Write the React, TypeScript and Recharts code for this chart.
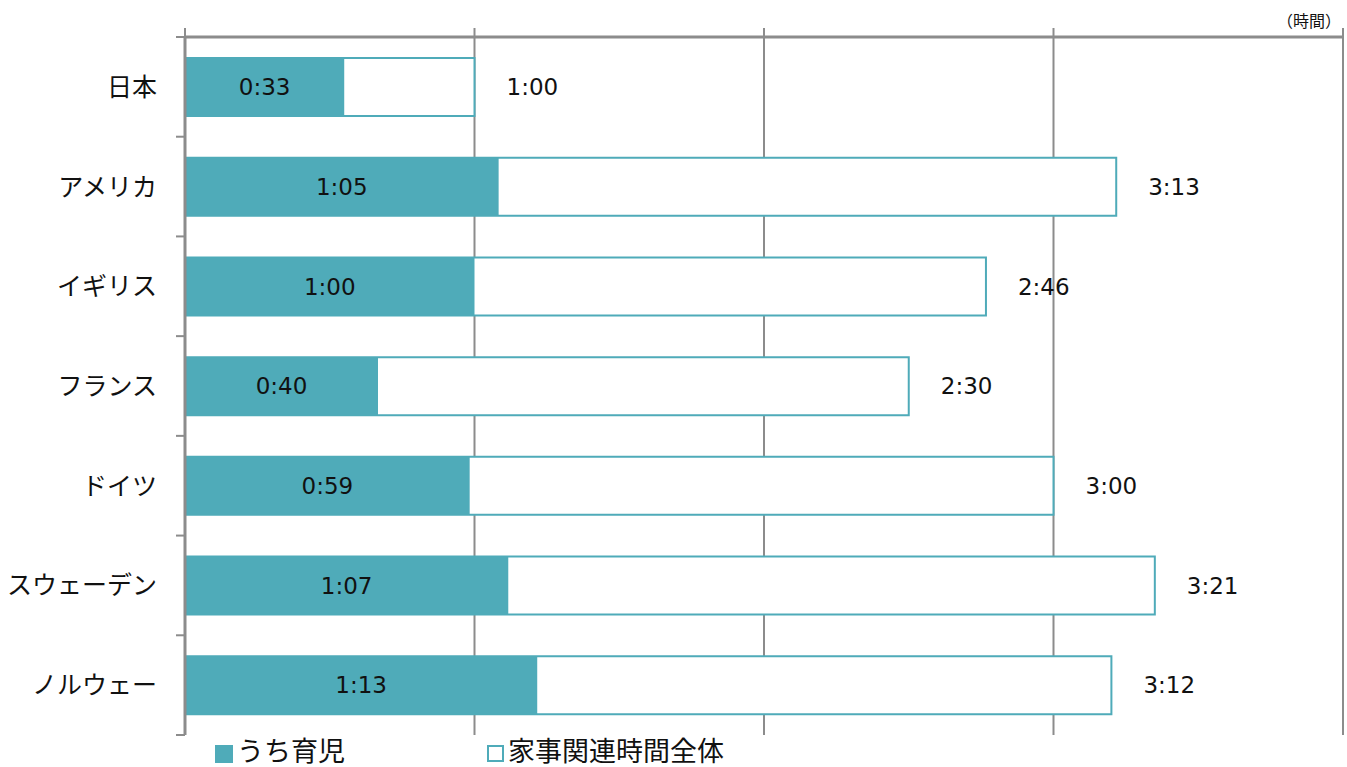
import { BarChart, Bar, XAxis, YAxis, CartesianGrid, LabelList } from "recharts";

const countries = ["日本", "アメリカ", "イギリス", "フランス", "ドイツ", "スウェーデン", "ノルウェー"];
// minutes per day
const childcare = [33, 65, 60, 40, 59, 67, 73];
const housework = [60, 193, 166, 150, 180, 201, 192];
const hourTicks = [0, 60, 120, 180, 240];
const seriesNames = ["うち育児", "家事関連時間全体"];
const unitLabel = "（時間）";

const W = 1347;
const H = 767;
const M = { top: 27, right: 4, bottom: 32, left: 0 };
const Y_AXIS_W = 185;
const X_AXIS_H = 10;
const TEAL = "#4fabb9";
const GRAY = "#8c8c8c";
const FONT = "'Noto Sans CJK JP', 'Noto Sans', sans-serif";
const NUM_FONT = "'DejaVu Sans', sans-serif";

const data = countries.map((name, i) => ({
  name,
  childcare: childcare[i],
  total: housework[i],
}));

const fmt = (v: any) => {
  const m = Number(v);
  return `${Math.floor(m / 60)}:${String(m % 60).padStart(2, "0")}`;
};

const band = (H - M.top - M.bottom - X_AXIS_H) / countries.length;

function CountryTick(props: any) {
  const { x, y, payload, index } = props;
  return (
    <g>
      <line x1={x - 9} x2={x} y1={y - band / 2} y2={y - band / 2} stroke={GRAY} strokeWidth={2} />
      {index === countries.length - 1 && (
        <line x1={x - 9} x2={x} y1={y + band / 2} y2={y + band / 2} stroke={GRAY} strokeWidth={2} />
      )}
      <text x={x - 28} y={y} dy={9} textAnchor="end" fontSize={25} fill="#111" fontFamily={FONT}>
        {payload.value}
      </text>
    </g>
  );
}

export default function App() {
  return (
    <div style={{ position: "absolute", left: 0, top: 0, width: W, height: H, fontFamily: FONT }}>
      <BarChart
        width={W}
        height={H}
        data={data}
        layout="vertical"
        margin={M}
        barSize={58}
        barGap={-58}
      >
        <CartesianGrid horizontal={false} stroke={GRAY} strokeWidth={2} verticalValues={hourTicks} />
        <XAxis
          type="number"
          orientation="top"
          domain={[0, 240]}
          ticks={hourTicks}
          tickFormatter={() => ""}
          tickSize={9}
          height={X_AXIS_H}
          axisLine={{ stroke: GRAY, strokeWidth: 3 }}
          tickLine={{ stroke: GRAY, strokeWidth: 2 }}
        />
        <YAxis
          type="category"
          dataKey="name"
          width={Y_AXIS_W}
          tickLine={false}
          tickSize={0}
          tickMargin={0}
          axisLine={{ stroke: GRAY, strokeWidth: 3 }}
          tick={<CountryTick />}
          interval={0}
        />
        <Bar dataKey="total" fill="#fff" stroke={TEAL} strokeWidth={2} isAnimationActive={false}>
          <LabelList
            dataKey="total"
            position="right"
            offset={32}
            formatter={fmt}
            fill="#111"
            fontSize={23}
            fontFamily={NUM_FONT}
          />
        </Bar>
        <Bar dataKey="childcare" fill={TEAL} isAnimationActive={false}>
          <LabelList
            dataKey="childcare"
            position="center"
            formatter={fmt}
            fill="#111"
            fontSize={23}
            fontFamily={NUM_FONT}
          />
        </Bar>
      </BarChart>
      <div style={{ position: "absolute", right: 6, top: 8, fontSize: 16, color: "#111" }}>{unitLabel}</div>
      <div
        style={{
          position: "absolute",
          left: 215,
          top: 736,
          display: "flex",
          fontSize: 27,
          lineHeight: "27px",
          color: "#111",
        }}
      >
        {seriesNames.map((n, i) => (
          <div key={n} style={{ display: "flex", alignItems: "center", marginRight: i === 0 ? 142 : 0 }}>
            <span
              style={{
                display: "inline-block",
                width: i === 0 ? 18 : 13,
                height: i === 0 ? 18 : 13,
                marginTop: 8,
                background: i === 0 ? TEAL : "#fff",
                border: i === 0 ? "none" : `2px solid ${TEAL}`,
                marginRight: 4,
              }}
            />
            <span>{n}</span>
          </div>
        ))}
      </div>
    </div>
  );
}
